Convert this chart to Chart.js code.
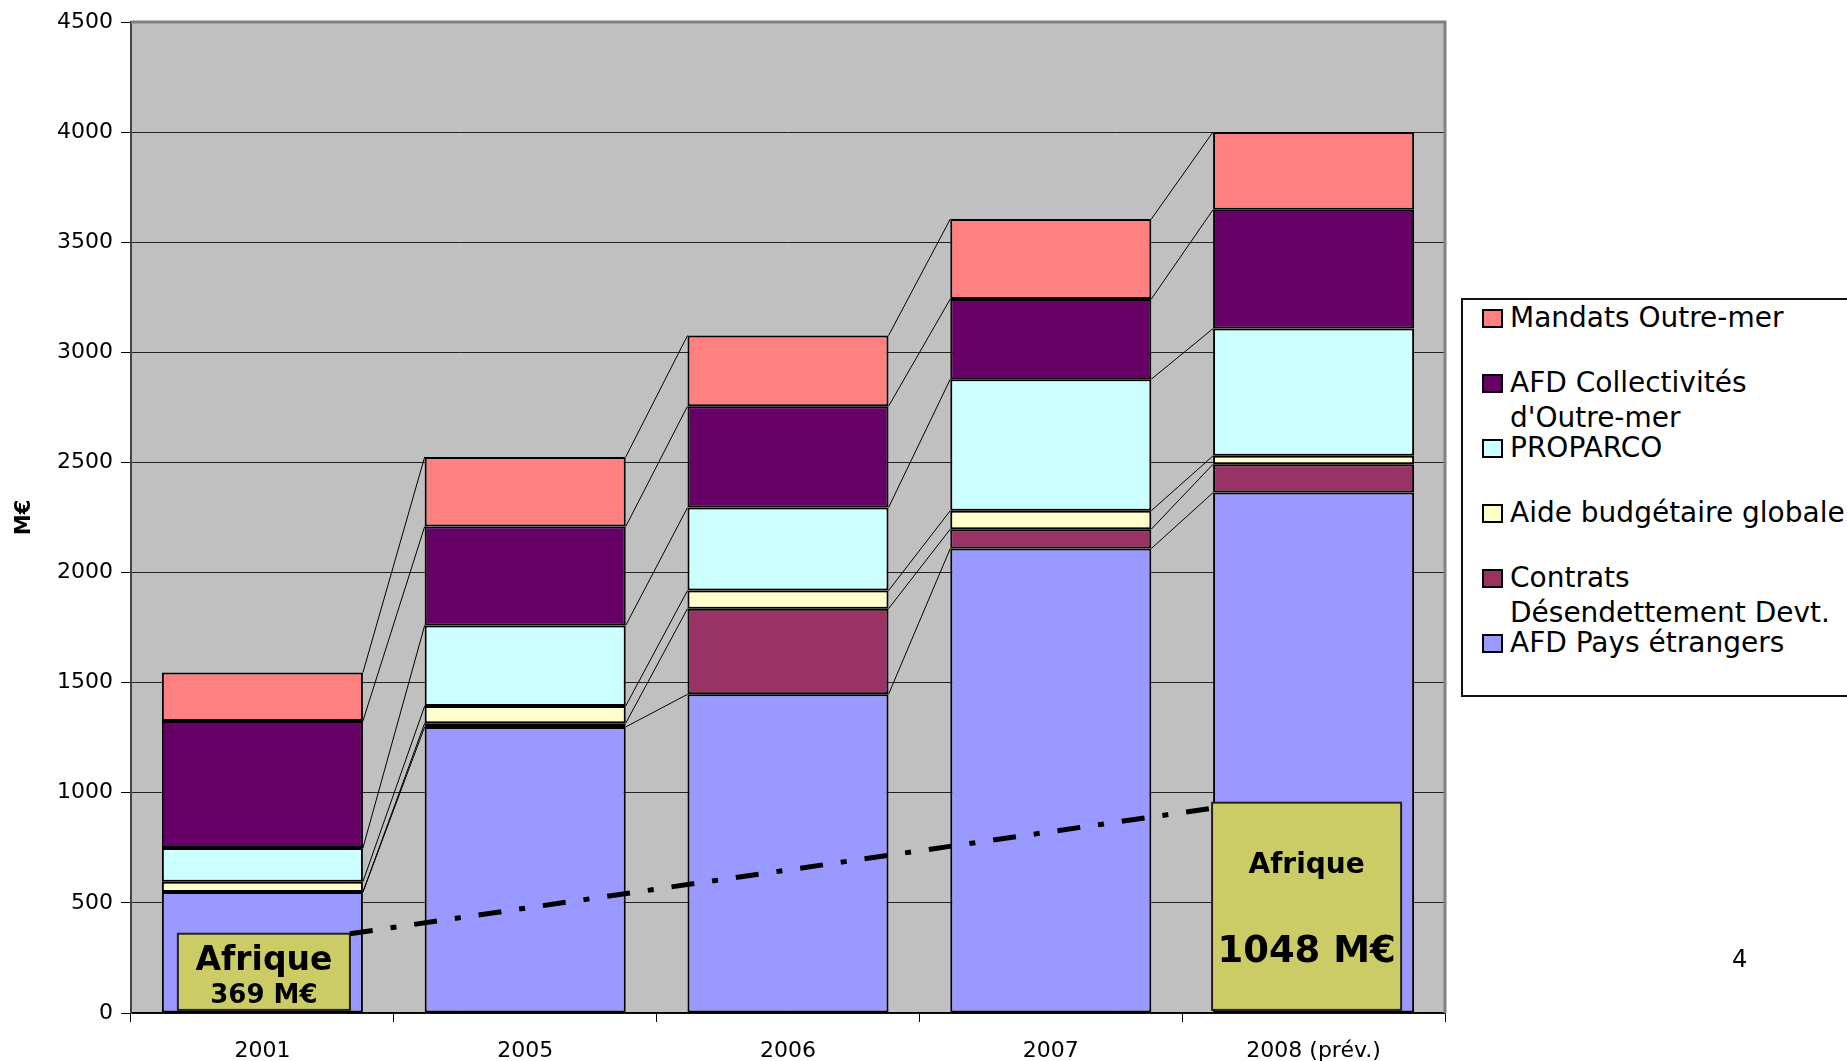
<!DOCTYPE html>
<html lang="fr">
<head>
<meta charset="UTF-8">
<title>Engagements du Groupe AFD</title>
<script src="https://cdn.jsdelivr.net/npm/chart.js"></script>
<style>
  html, body { margin: 0; padding: 0; background: #fff; }
  #wrap { position: relative; width: 1847px; height: 1061px; overflow: hidden; }
  #chart { position: absolute; left: 0; top: 0; }
  #legend {
    position: absolute; left: 1461px; top: 298px; width: 420px; height: 399px;
    border: 2px solid #111; box-sizing: border-box; background: #fff;
    font-family: "DejaVu Sans", sans-serif; font-size: 28px; line-height: 35px; color: #000;
  }
  .item { position: absolute; left: 47px; width: 336px; }
  .sw { position: absolute; left: -28px; top: 9px; width: 21px; height: 19px; box-sizing: border-box; border: 2px solid #000; }
  #page { position: absolute; left: 1732px; top: 945px; font: 24px "DejaVu Sans", sans-serif; color: #000; }
</style>
</head>
<body>
<div id="wrap">
  <canvas id="chart" width="1847" height="1061"></canvas>
  <div id="legend"></div>
  <div id="page">4</div>
</div>
<script>
// Valeurs (M€)
const years = ['2001', '2005', '2006', '2007', '2008 (prév.)'];
const afdPays = [549, 1299, 1447, 2109, 2363];
const contrats = [0, 17, 389, 88, 129];
const aideBudget = [47, 78, 82, 84, 38];
const proparco = [153, 366, 377, 597, 578];
const collectivites = [577, 449, 460, 364, 540];
const mandats = [220, 316, 321, 363, 353];
const seriesNames = ['AFD Pays étrangers', 'Contrats Désendettement Devt.', 'Aide budgétaire globale',
                     'PROPARCO', "AFD Collectivités d'Outre-mer", 'Mandats Outre-mer'];
const yMax = 4500;
const yStep = 500;

// Encadrés "Afrique"
const afriqueText = ['369 M€', '1048 M€'];
const afriqueBar = [0, 4];
const afriqueBoxTop = [360, 955];
const afriqueLineEnds = [360, 930];

const colors = ['#9999FF', '#993366', '#FFFFCC', '#CCFFFF', '#660066', '#FF8080'];
const seriesValues = [afdPays, contrats, aideBudget, proparco, collectivites, mandats];

const datasets = seriesValues.map((vals, i) => ({
  label: seriesNames[i],
  data: vals,
  backgroundColor: colors[i],
  borderColor: '#000',
  borderWidth: 2,
  borderSkipped: false
}));

// Fond gris de la zone de tracé
const plotBg = {
  id: 'plotBg',
  beforeDraw(chart) {
    const a = chart.chartArea, ctx = chart.ctx;
    ctx.save();
    ctx.fillStyle = '#C0C0C0';
    ctx.fillRect(a.left, a.top, a.right - a.left, a.bottom - a.top);
    ctx.restore();
  }
};

// Lignes de séries entre les barres + cadre + encadrés Afrique
const extras = {
  id: 'extras',
  afterDatasetsDraw(chart) {
    const ctx = chart.ctx, a = chart.chartArea, y = chart.scales.y;
    ctx.save();
    // series lines
    ctx.strokeStyle = '#000';
    ctx.lineWidth = 1;
    chart.data.datasets.forEach((ds, d) => {
      const els = chart.getDatasetMeta(d).data;
      for (let i = 0; i < els.length - 1; i++) {
        const e = els[i], n = els[i + 1];
        ctx.beginPath();
        ctx.moveTo(e.x + e.width / 2, e.y);
        ctx.lineTo(n.x - n.width / 2, n.y);
        ctx.stroke();
      }
    });
    // top and right frame
    ctx.strokeStyle = '#808080';
    ctx.lineWidth = 3;
    ctx.beginPath();
    ctx.moveTo(a.left, a.top);
    ctx.lineTo(a.right, a.top);
    ctx.lineTo(a.right, a.bottom);
    ctx.stroke();

    // boxes
    const meta = chart.getDatasetMeta(0).data;
    const boxes = afriqueBar.map((b, k) => {
      const e = meta[b];
      const left = k === 0 ? e.x - e.width / 2 + 16 : e.x - e.width / 2 - 1;
      const right = e.x + e.width / 2 - 13;
      return { left, right, top: y.getPixelForValue(afriqueBoxTop[k]), bottom: y.getPixelForValue(14) };
    });
    boxes.forEach((bx, k) => {
      ctx.fillStyle = '#CCCC66';
      ctx.fillRect(bx.left, bx.top, bx.right - bx.left, bx.bottom - bx.top);
      ctx.strokeStyle = '#222';
      ctx.lineWidth = 2;
      ctx.strokeRect(bx.left, bx.top, bx.right - bx.left, bx.bottom - bx.top);
      const cx = (bx.left + bx.right) / 2;
      ctx.fillStyle = '#000';
      ctx.textAlign = 'center';
      ctx.textBaseline = 'alphabetic';
      if (k === 0) {
        ctx.font = 'bold 33px "DejaVu Sans"';
        ctx.fillText('Afrique', cx, bx.top + 36);
        ctx.font = 'bold 26px "DejaVu Sans"';
        ctx.fillText(afriqueText[k], cx, bx.top + 69);
      } else {
        ctx.font = 'bold 28px "DejaVu Sans"';
        ctx.fillText('Afrique', cx, bx.top + 70);
        ctx.font = 'bold 37px "DejaVu Sans"';
        ctx.fillText(afriqueText[k], cx, bx.top + 159);
      }
    });

    // dash-dot trend line
    ctx.strokeStyle = '#000';
    ctx.lineWidth = 5;
    ctx.lineCap = 'butt';
    ctx.setLineDash([23, 18, 6, 18]);
    ctx.beginPath();
    ctx.moveTo(boxes[0].right, y.getPixelForValue(afriqueLineEnds[0]));
    ctx.lineTo(boxes[1].left, y.getPixelForValue(afriqueLineEnds[1]));
    ctx.stroke();
    ctx.restore();
  }
};

new Chart(document.getElementById('chart'), {
  type: 'bar',
  data: { labels: years, datasets: datasets },
  options: {
    responsive: false,
    animation: false,
    layout: { padding: { top: 22, right: 402, bottom: 0, left: 0 } },
    plugins: { legend: { display: false }, tooltip: { enabled: false } },
    datasets: { bar: { categoryPercentage: 1, barPercentage: 0.765 } },
    scales: {
      x: {
        stacked: true,
        afterFit: (s) => { s.height = 48; },
        grid: { offset: true, drawOnChartArea: false, color: '#000', tickLength: 9 },
        border: { color: '#000', width: 1.5 },
        ticks: { color: '#000', padding: 16, font: { family: 'DejaVu Sans', size: 22 } }
      },
      y: {
        stacked: true,
        min: 0,
        max: yMax,
        afterFit: (s) => { s.width = 131; },
        ticks: { stepSize: yStep, color: '#000', padding: 8, font: { family: 'DejaVu Sans', size: 22 },
                 callback: (v) => String(v) },
        grid: { color: '#222', lineWidth: 1, tickLength: 10, tickColor: '#000' },
        border: { color: '#444', width: 2 },
        title: { display: true, text: 'M€', color: '#000', padding: { top: 12, bottom: 0 },
                 font: { family: 'DejaVu Sans', size: 21, weight: 'bold' } }
      }
    }
  },
  plugins: [plotBg, extras]
});

// Légende (ordre inverse de l'empilement)
const legend = document.getElementById('legend');
for (let i = seriesNames.length - 1, row = 0; i >= 0; i--, row++) {
  const item = document.createElement('div');
  item.className = 'item';
  item.style.top = (0 + 65 * row) + 'px';
  const sw = document.createElement('span');
  sw.className = 'sw';
  sw.style.background = colors[i];
  item.appendChild(sw);
  item.appendChild(document.createTextNode(seriesNames[i]));
  legend.appendChild(item);
}
</script>
</body>
</html>
